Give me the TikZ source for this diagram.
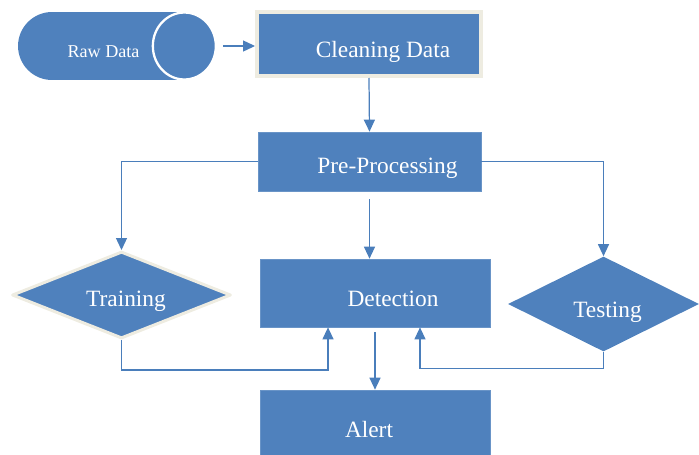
\documentclass[tikz,border=0pt]{standalone}
\usepackage{fontspec}
\setmainfont{Liberation Serif}
\usepackage{tikz}
\usetikzlibrary{arrows.meta,shapes.geometric,shapes.misc,positioning}

\definecolor{boxblue}{HTML}{4F81BD}
\definecolor{lineblue}{HTML}{4A7EBB}
\definecolor{frame}{HTML}{EEECE1}

\begin{document}
\begin{tikzpicture}[
    x=0.02cm, y=-0.02cm,
    box/.style={rectangle, fill=boxblue, draw=boxblue!85!white, line width=0.4pt,
                inner sep=0pt, minimum width=#1},
    box/.default=4.6cm,
    decision/.style={diamond, fill=boxblue, inner sep=0pt, line join=round},
    txt/.style={text=white, font=\fontsize{13.3}{15}\selectfont},
    arr/.style={-{Triangle[length=0.24cm, width=0.22cm]}, line width=0.7pt, draw=lineblue}
]
\useasboundingbox (0,0) rectangle (699,454);

%% RAW DATA (storage)
\node[rounded rectangle, rounded rectangle right arc=none, fill=boxblue,
      minimum width=3.32cm, minimum height=1.36cm, inner sep=0pt,
      label={[text=white, font=\fontsize{10.3}{12}\selectfont,
              xshift=0.05cm, yshift=-0.12cm]center:Raw Data}]
    (rawdata) at (101,46) {};
\node[ellipse, fill=boxblue, draw=white, line width=1.3pt, inner sep=0pt,
      minimum width=1.26cm, minimum height=1.34cm]
    (rawend) at (rawdata.east) {};

%% CLEANING
\node[box=4.48cm, minimum height=1.28cm, draw=frame, line width=0.08cm,
      label={[txt, xshift=0.28cm, yshift=-0.16cm]center:Cleaning Data}]
    (cleaning) at (369,44) {};

%% PRE-PROCESSING
\node[box=4.46cm, minimum height=1.18cm,
      label={[txt, xshift=0.36cm, yshift=-0.13cm]center:Pre-Processing}]
    (preproc) at (369.5,161.5) {};

%% DETECTION
\node[box=4.6cm, minimum height=1.36cm,
      label={[txt, xshift=0.36cm, yshift=-0.11cm]center:Detection}]
    (detect) at (375,293) {};

%% ALERT
\node[box=4.6cm, minimum height=1.6cm,
      label={[txt, xshift=-0.12cm, yshift=0.01cm]center:Alert}]
    (alert) at (375,430) {};

%% TRAINING / TESTING
\node[decision, minimum width=4.38cm, minimum height=1.74cm,
      draw=frame, line width=0.06cm,
      label={[txt, xshift=0.09cm, yshift=-0.12cm]center:Training}]
    (training) at (121.5,295) {};
\node[decision, minimum width=3.82cm, minimum height=1.9cm,
      label={[txt, xshift=0.08cm, yshift=-0.16cm]center:Testing}]
    (testing) at (603.5,304) {};

%% ARROWS
\draw[arr, shorten <=0.12cm] (rawend.east) -- (rawend.east -| cleaning.west);
\draw[arr] (cleaning.south) -- (preproc.north);
\draw[arr] (preproc.west) -| (training.north);
\draw[arr] (preproc.east) -| (testing.north);
\draw[arr, shorten <=0.16cm] (preproc.south) -- (preproc.south |- detect.north);

%% back into detection
\draw[arr] (training.south) -- ++(0,30) -| ([xshift=-0.94cm]detect.south);
\draw[arr] (testing.south) -- ++(0,16.5) -| ([xshift=0.9cm]detect.south);

\draw[arr, shorten <=0.1cm] (detect.south) -- (alert.north);

\end{tikzpicture}
\end{document}
